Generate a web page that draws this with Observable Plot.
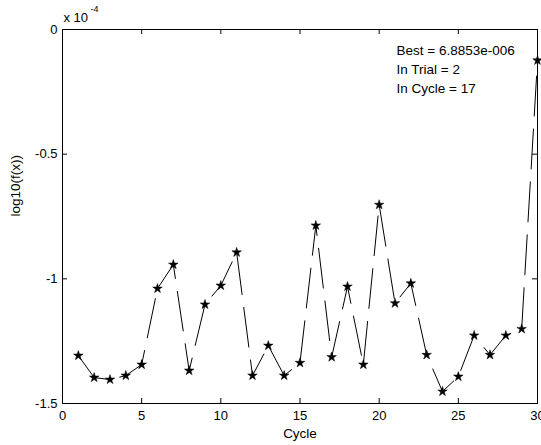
<!DOCTYPE html>
<html>
<head>
<meta charset="utf-8">
<script src="https://cdn.jsdelivr.net/npm/d3@7"></script>
<script src="https://cdn.jsdelivr.net/npm/@observablehq/plot@0.6"></script>
<style>
  html, body { margin: 0; padding: 0; background: white; }
</style>
</head>
<body>
<div id="chart"></div>
<script>
// Data (values in units of 1e-4)
const cycles = [1,2,3,4,5,6,7,8,9,10,11,12,13,14,15,16,17,18,19,20,21,22,23,24,25,26,27,28,29,30];
const values = [-1.308,-1.396,-1.404,-1.388,-1.344,-1.039,-0.943,-1.368,-1.103,-1.027,-0.894,-1.388,-1.268,-1.388,-1.337,-0.786,-1.314,-1.031,-1.344,-0.703,-1.098,-1.018,-1.305,-1.452,-1.392,-1.227,-1.305,-1.227,-1.201,-0.124];
const xTicks = [0,5,10,15,20,25,30];
const yTicks = [0,-0.5,-1,-1.5];
const annotation = ["Best = 6.8853e-006", "In Trial = 2", "In Cycle = 17"];
const xLabel = "Cycle";
const yLabel = "log10(f(x))";
const expBase = "x 10";
const expPower = "-4";

const data = cycles.map((c, i) => ({cycle: c, value: values[i]}));

const W = 541, H = 445;
const mL = 62, mR = 4, mT = 29, mB = 42;
const fw = W - mL - mR, fh = H - mT - mB;
const tick = 5;

const chart = Plot.plot({
  width: W,
  height: H,
  marginLeft: mL,
  marginRight: mR,
  marginTop: mT,
  marginBottom: mB,
  style: {fontFamily: "'Liberation Sans', Arial, sans-serif", fontSize: "13px", color: "black", background: "white"},
  x: {domain: [0, 30], label: null},
  y: {domain: [-1.5, 0], label: null},
  marks: [
    Plot.frame({stroke: "black", strokeWidth: 1}),
    Plot.tickX(xTicks, {x: d => d, insetTop: fh - tick, stroke: "black"}),
    Plot.tickX(xTicks, {x: d => d, insetBottom: fh - tick, stroke: "black"}),
    Plot.tickY(yTicks, {y: d => d, insetRight: fw - tick, stroke: "black"}),
    Plot.tickY(yTicks, {y: d => d, insetLeft: fw - tick, stroke: "black"}),
    Plot.axisX({ticks: xTicks, tickSize: 0, tickPadding: 7, label: null, tickFormat: d => String(d), fontSize: 13}),
    Plot.axisY({ticks: yTicks, tickSize: 0, tickPadding: 5, label: null, tickFormat: d => String(d), fontSize: 13}),
    Plot.line(data, {x: "cycle", y: "value", stroke: "black", strokeWidth: 1, strokeDasharray: "40,13"}),
    Plot.dot(data, {x: "cycle", y: "value", symbol: "star", fill: "black", stroke: "black", strokeWidth: 0.5, r: 3}),
    Plot.text([annotation.join("\n")], {frameAnchor: "top-left", textAnchor: "start", lineAnchor: "top", dx: 334, dy: 12, lineHeight: 1.4, fontSize: 13.5, fill: "black"}),
    Plot.text([xLabel], {frameAnchor: "bottom", lineAnchor: "middle", dy: 30, fontSize: 13.5, fill: "black"}),
    Plot.text([yLabel], {frameAnchor: "left", lineAnchor: "middle", rotate: -90, dx: -47, fontSize: 13.5, fill: "black"}),
    Plot.text([expBase], {frameAnchor: "top-left", textAnchor: "start", lineAnchor: "middle", dx: 1, dy: -12, fontSize: 13, fill: "black"}),
    Plot.text([expPower], {frameAnchor: "top-left", textAnchor: "start", lineAnchor: "middle", dx: 28, dy: -20, fontSize: 9, fill: "black"})
  ]
});

document.getElementById("chart").appendChild(chart);
</script>
</body>
</html>
